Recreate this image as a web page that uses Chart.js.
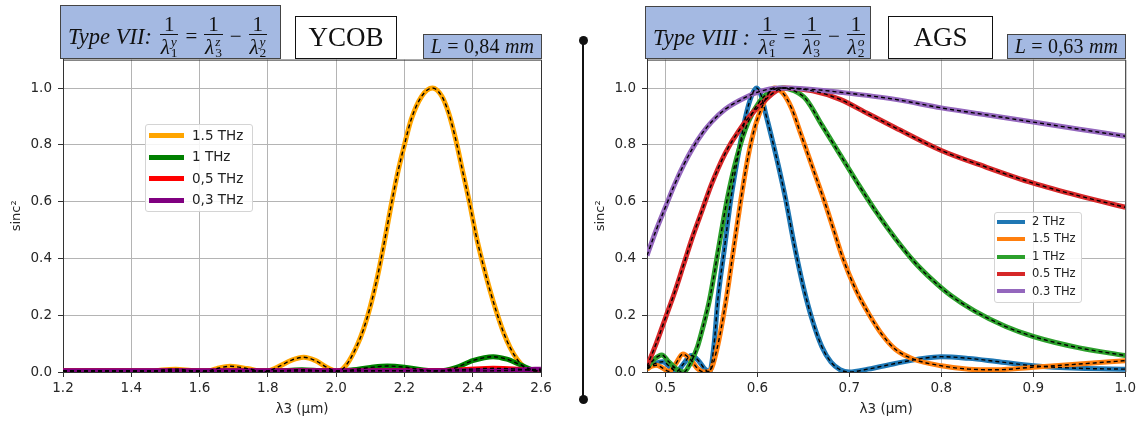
<!DOCTYPE html>
<html><head><meta charset="utf-8">
<script src="https://cdn.jsdelivr.net/npm/chart.js@4.4.0/dist/chart.umd.min.js"></script>
<style>
html,body{margin:0;padding:0;background:#fff;}
body{width:1139px;height:421px;position:relative;overflow:hidden;font-family:"DejaVu Sans",sans-serif;}
canvas{position:absolute;top:0;}
#c1{left:0;}
#c2{left:583px;}
.box{position:absolute;box-sizing:border-box;}
.eq{background:#a4b9e2;border:1px solid #444;font-family:"Liberation Serif",serif;font-size:21px;display:flex;align-items:center;padding-left:7px;padding-top:8px;white-space:nowrap;color:#111;}
.eq .t{font-style:italic;font-size:22.5px;margin-right:5px;position:relative;top:1px;}
.fr{display:inline-flex;flex-direction:column;align-items:center;margin:0 3px;}
.fr .n{border-bottom:1px solid #111;padding:0 4px;line-height:20px;text-align:center;}
.fr .d{line-height:24px;font-style:italic;display:inline-flex;align-items:center;}
.ss{display:inline-flex;flex-direction:column;font-size:13.5px;line-height:11px;margin-left:1px;}
.ss .u{font-style:italic;}
.ss .l{font-style:normal;}
.op{margin:0 4px;}
.name{background:#fff;border:1.5px solid #111;font-family:"Liberation Serif",serif;font-size:27px;display:flex;align-items:center;justify-content:center;color:#111;}
.len{background:#a4b9e2;border:1px solid #444;font-family:"Liberation Serif",serif;font-size:20px;display:flex;align-items:center;justify-content:center;white-space:nowrap;color:#111;letter-spacing:0.2px;}
.len i{font-style:italic;}
.legend{position:absolute;background:rgba(255,255,255,0.85);border:1px solid #d4d4d4;border-radius:3px;box-sizing:border-box;color:#222;font-family:"DejaVu Sans",sans-serif;}
.legend .sw{position:absolute;}
.legend .tx{position:absolute;white-space:nowrap;}
#sep{position:absolute;left:582px;top:40px;width:2px;height:359px;background:#111;}
.dot{position:absolute;width:9px;height:9px;border-radius:50%;background:#111;}
</style></head>
<body>
<canvas id="c1" width="560" height="421"></canvas>
<canvas id="c2" width="556" height="421"></canvas>

<div class="box eq" style="left:60px;top:5px;width:221px;height:54px;">
  <span class="t">Type VII:</span>
  <span class="fr"><span class="n">1</span><span class="d">λ<span class="ss"><span class="u">y</span><span class="l">1</span></span></span></span>
  <span class="op">=</span>
  <span class="fr"><span class="n">1</span><span class="d">λ<span class="ss"><span class="u">z</span><span class="l">3</span></span></span></span>
  <span class="op">−</span>
  <span class="fr"><span class="n">1</span><span class="d">λ<span class="ss"><span class="u">y</span><span class="l">2</span></span></span></span>
</div>
<div class="box name" style="left:295px;top:16px;width:102px;height:43px;">YCOB</div>
<div class="box len" style="left:423px;top:34px;width:119px;height:25px;"><i>L</i>&nbsp;=&nbsp;0,84&nbsp;<i>mm</i></div>

<div class="box eq" style="left:645px;top:6px;width:226px;height:53px;">
  <span class="t">Type VIII :</span>
  <span class="fr"><span class="n">1</span><span class="d">λ<span class="ss"><span class="u">e</span><span class="l">1</span></span></span></span>
  <span class="op">=</span>
  <span class="fr"><span class="n">1</span><span class="d">λ<span class="ss"><span class="u">o</span><span class="l">3</span></span></span></span>
  <span class="op">−</span>
  <span class="fr"><span class="n">1</span><span class="d">λ<span class="ss"><span class="u">o</span><span class="l">2</span></span></span></span>
</div>
<div class="box name" style="left:888px;top:16px;width:105px;height:43px;">AGS</div>
<div class="box len" style="left:1007px;top:34px;width:119px;height:25px;"><i>L</i>&nbsp;=&nbsp;0,63&nbsp;<i>mm</i></div>

<div id="sep"></div>
<div class="dot" style="left:578.5px;top:35.5px;"></div>
<div class="dot" style="left:578.5px;top:394.5px;"></div>

<div id="leg1" class="legend" style="left:145px;top:124px;width:108px;height:88px;"></div>
<div id="leg2" class="legend" style="left:994px;top:212px;width:88px;height:91px;"></div>

<script>
// ---------- YCOB (left) ----------
const ycobLabels = ["1.5 THz", "1 THz", "0,5 THz", "0,3 THz"];
const ycobColors = ["#ffa500", "#008000", "#ff0000", "#800080"];
const ycobTicksX = [1.2, 1.4, 1.6, 1.8, 2.0, 2.2, 2.4, 2.6];

const ycob15X = [1.2,1.3,1.4,1.455,1.49,1.53,1.575,1.615,1.65,1.69,1.74,1.79,1.83,1.87,1.905,1.94,1.975,2.005,2.03,2.06,2.08,2.1,2.12,2.14,2.16,2.18,2.2,2.22,2.25,2.282,2.31,2.33,2.35,2.37,2.39,2.41,2.43,2.45,2.47,2.49,2.51,2.53,2.55,2.575,2.6];
const ycob15Y = [0.003,0.004,0.003,0.001,0.007,0.01,0.005,0.001,0.012,0.02,0.012,0.001,0.018,0.042,0.052,0.04,0.015,0.002,0.025,0.09,0.15,0.23,0.33,0.45,0.58,0.7,0.8,0.89,0.97,1.0,0.97,0.91,0.82,0.71,0.6,0.48,0.38,0.29,0.21,0.14,0.085,0.045,0.018,0.004,0.003];
const ycob1X = [1.2,1.5,1.8,1.85,1.9,1.95,2.0,2.05,2.1,2.15,2.2,2.25,2.3,2.35,2.4,2.46,2.5,2.54,2.58,2.6];
const ycob1Y = [0.003,0.003,0.003,0.005,0.008,0.005,0.002,0.008,0.016,0.021,0.017,0.008,0.003,0.015,0.04,0.054,0.045,0.025,0.006,0.004];
const ycob05X = [1.2,1.6,2.0,2.2,2.3,2.38,2.46,2.52,2.57,2.6];
const ycob05Y = [0.004,0.004,0.004,0.005,0.005,0.009,0.013,0.011,0.006,0.004];
const ycob03X = [1.2,1.6,2.0,2.4,2.5,2.55,2.6];
const ycob03Y = [0.004,0.004,0.004,0.004,0.005,0.008,0.01];

// ---------- AGS (right) ----------
const agsLabels = ["2 THz", "1.5 THz", "1 THz", "0.5 THz", "0.3 THz"];
const agsColors = ["#1f77b4", "#ff7f0e", "#2ca02c", "#d62728", "#9467bd"];
const agsTicksX = [0.5, 0.6, 0.7, 0.8, 0.9, 1.0];

const ags2X = [0.48,0.489,0.497,0.505,0.512,0.52,0.528,0.536,0.543,0.548,0.553,0.557,0.564,0.571,0.58,0.588,0.594,0.599,0.604,0.609,0.616,0.624,0.631,0.64,0.65,0.66,0.67,0.68,0.69,0.7,0.72,0.75,0.78,0.8,0.83,0.86,0.9,0.95,1.0];
const ags2Y = [0.012,0.03,0.036,0.018,0.002,0.03,0.058,0.04,0.01,0.0,0.1,0.254,0.43,0.605,0.78,0.91,0.975,1.0,0.975,0.91,0.82,0.71,0.605,0.45,0.3,0.18,0.09,0.035,0.008,0.0,0.01,0.03,0.048,0.054,0.048,0.037,0.022,0.013,0.01];
const ags15X = [0.48,0.485,0.49,0.497,0.504,0.511,0.519,0.527,0.535,0.542,0.548,0.556,0.566,0.574,0.582,0.59,0.598,0.606,0.612,0.618,0.627,0.637,0.647,0.66,0.673,0.683,0.693,0.707,0.722,0.736,0.75,0.77,0.8,0.83,0.86,0.9,0.95,1.0];
const ags15Y = [0.01,0.02,0.024,0.014,0.002,0.028,0.063,0.045,0.012,0.0,0.003,0.08,0.254,0.43,0.605,0.76,0.87,0.94,0.98,1.0,0.985,0.93,0.84,0.72,0.6,0.5,0.4,0.29,0.2,0.13,0.08,0.045,0.022,0.01,0.008,0.017,0.028,0.04];
const ags1X = [0.48,0.488,0.496,0.504,0.512,0.52,0.527,0.535,0.541,0.548,0.557,0.567,0.578,0.59,0.602,0.615,0.627,0.64,0.653,0.67,0.69,0.71,0.73,0.75,0.77,0.79,0.81,0.836,0.87,0.9,0.95,1.0];
const ags1Y = [0.015,0.045,0.06,0.035,0.01,0.0,0.03,0.09,0.16,0.254,0.42,0.605,0.76,0.88,0.95,0.99,1.0,0.99,0.96,0.87,0.765,0.66,0.56,0.47,0.39,0.325,0.27,0.215,0.16,0.125,0.085,0.058];
const ags05X = [0.48,0.49,0.5,0.51,0.52,0.53,0.54,0.55,0.565,0.58,0.6,0.63,0.66,0.69,0.72,0.75,0.8,0.85,0.9,0.95,1.0];
const ags05Y = [0.02,0.1,0.19,0.28,0.38,0.48,0.57,0.66,0.77,0.85,0.93,1.0,0.99,0.96,0.91,0.86,0.78,0.72,0.665,0.62,0.58];
const ags03X = [0.48,0.49,0.5,0.51,0.52,0.53,0.54,0.55,0.565,0.58,0.6,0.625,0.66,0.69,0.75,0.8,0.85,0.9,0.95,1.0];
const ags03Y = [0.41,0.5,0.58,0.66,0.73,0.79,0.84,0.88,0.925,0.955,0.985,1.0,0.995,0.985,0.96,0.93,0.905,0.88,0.855,0.83];

const yTicks = [0.0, 0.2, 0.4, 0.6, 0.8, 1.0];

const frame = {
  id: 'frame',
  afterDraw(chart) {
    const {ctx, chartArea: a} = chart;
    ctx.save();
    ctx.strokeStyle = '#333';
    ctx.lineWidth = 1;
    ctx.beginPath();
    ctx.moveTo(a.left, a.top + 0.5);
    ctx.lineTo(a.right + 0.5, a.top + 0.5);
    ctx.lineTo(a.right + 0.5, a.bottom);
    ctx.stroke();
    ctx.restore();
  }
};

const tickFont = {family: 'DejaVu Sans', size: 13.5};

function build(id, cfg) {
  const datasets = [];
  cfg.series.forEach((s, i) => {
    const pts = s.x.map((x, k) => ({x: x, y: s.y[k]}));
    datasets.push({label: s.label, data: pts, borderColor: s.color, borderWidth: cfg.lw,
      pointRadius: 0, cubicInterpolationMode: 'monotone', order: 20 - i, clip: 0, fill: false});
  });
  cfg.series.forEach((s, i) => {
    const pts = s.x.map((x, k) => ({x: x, y: s.y[k]}));
    datasets.push({label: '', data: pts, borderColor: '#000', borderWidth: 1.4, borderDash: [4, 3],
      pointRadius: 0, cubicInterpolationMode: 'monotone', order: 0, clip: 0, fill: false});
  });
  return new Chart(document.getElementById(id), {
    type: 'line',
    data: {datasets},
    plugins: [frame],
    options: {
      responsive: false, animation: false, devicePixelRatio: 1,
      layout: {padding: {top: 59.6, right: cfg.padRight, left: 0, bottom: 0}},
      plugins: {legend: {display: false}, tooltip: {enabled: false}},
      scales: {
        x: {
          type: 'linear', min: cfg.xMin, max: cfg.xMax,
          afterBuildTicks: sc => { sc.ticks = cfg.xTicks.map(v => ({value: v})); },
          afterFit: sc => { sc.height = 49; },
          ticks: {callback: v => Number(v).toFixed(1), font: tickFont, color: '#262626', padding: 3, maxRotation: 0, autoSkip: false},
          grid: {color: '#b4b4b4', lineWidth: 1, tickColor: '#333', tickLength: 5},
          border: {color: '#333', width: 1},
          title: {display: true, text: 'λ3 (µm)', font: tickFont, color: '#262626', padding: {top: 0, bottom: 3.6}}
        },
        y: {
          type: 'linear', min: 0, max: 1.1,
          afterBuildTicks: sc => { sc.ticks = yTicks.map(v => ({value: v})); },
          afterFit: sc => { sc.width = cfg.yw; },
          ticks: {callback: v => Number(v).toFixed(1), font: tickFont, color: '#262626', padding: 6},
          grid: {color: '#b4b4b4', lineWidth: 1, tickColor: '#333', tickLength: 5},
          border: {color: '#333', width: 1},
          title: {display: true, text: 'sinc²', font: {family: 'DejaVu Sans', size: 13}, color: '#262626', padding: {top: cfg.yTitlePad, bottom: 0}}
        }
      }
    }
  });
}

build('c1', {
  xMin: 1.2, xMax: 2.6, xTicks: ycobTicksX, lw: 5, padRight: 19, yw: 63, yTitlePad: 9,
  series: [
    {label: ycobLabels[0], color: ycobColors[0], x: ycob15X, y: ycob15Y},
    {label: ycobLabels[1], color: ycobColors[1], x: ycob1X, y: ycob1Y},
    {label: ycobLabels[2], color: ycobColors[2], x: ycob05X, y: ycob05Y},
    {label: ycobLabels[3], color: ycobColors[3], x: ycob03X, y: ycob03Y}
  ]
});
build('c2', {
  xMin: 0.48, xMax: 1.0, xTicks: agsTicksX, lw: 5, padRight: 13, yw: 64, yTitlePad: 10,
  series: [
    {label: agsLabels[0], color: agsColors[0], x: ags2X, y: ags2Y},
    {label: agsLabels[1], color: agsColors[1], x: ags15X, y: ags15Y},
    {label: agsLabels[2], color: agsColors[2], x: ags1X, y: ags1Y},
    {label: agsLabels[3], color: agsColors[3], x: ags05X, y: ags05Y},
    {label: agsLabels[4], color: agsColors[4], x: ags03X, y: ags03Y}
  ]
});

function legend(id, labels, colors, o) {
  const el = document.getElementById(id);
  labels.forEach((lab, i) => {
    const cy = o.first + o.step * i;
    const sw = document.createElement('div');
    sw.className = 'sw';
    sw.style.cssText = `left:${o.swL}px;width:${o.swW}px;height:${o.swH}px;top:${cy - o.swH / 2 - 1}px;background:${colors[i]};`;
    el.appendChild(sw);
    const tx = document.createElement('div');
    tx.className = 'tx';
    tx.textContent = lab;
    tx.style.cssText = `left:${o.txL}px;font-size:${o.fs}px;line-height:${o.fs}px;top:${cy - o.fs / 2 - 1}px;`;
    el.appendChild(tx);
  });
}
legend('leg1', ycobLabels, ycobColors, {first: 11.7, step: 21.5, swL: 3, swW: 35, swH: 5, txL: 46, fs: 13.5});
legend('leg2', agsLabels, agsColors, {first: 9.7, step: 17.4, swL: 2, swW: 28, swH: 4, txL: 37, fs: 11.5});
</script>
</body></html>
